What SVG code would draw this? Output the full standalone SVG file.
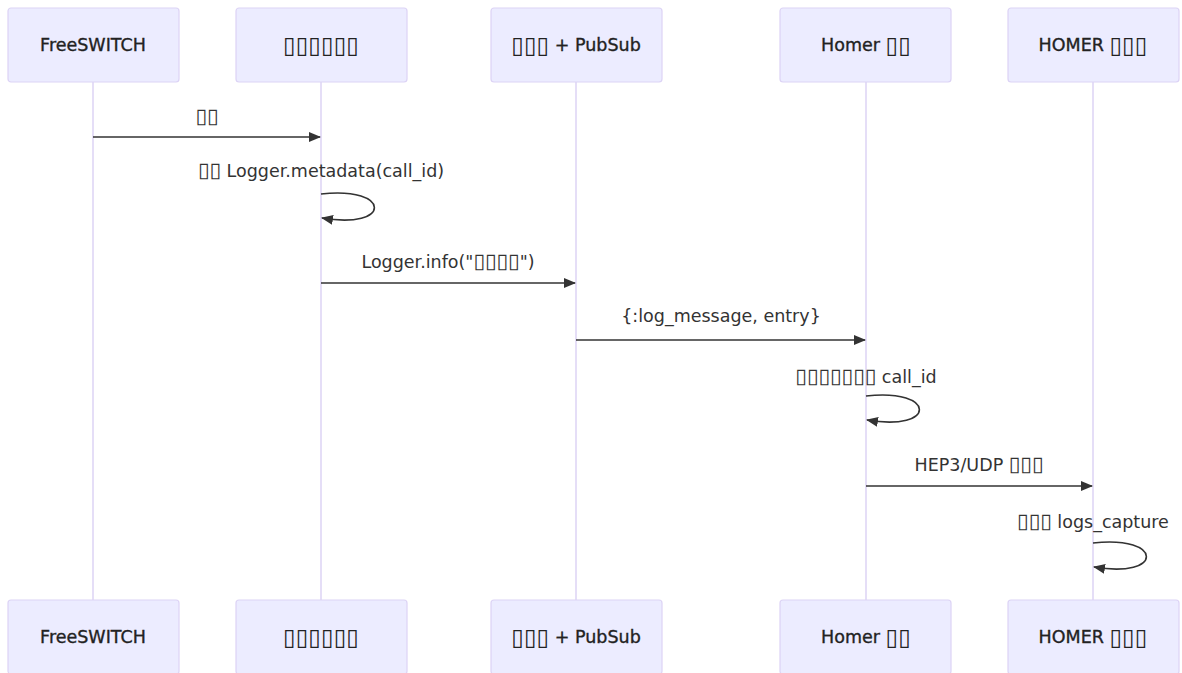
<svg xmlns="http://www.w3.org/2000/svg" width="1182" height="673" viewBox="0 0 1182 673">
<style>
.actor{fill:#ECECFF;stroke:#DCD3F5;stroke-width:1.2}
.atext{font-family:"DejaVu Sans",sans-serif;font-size:17.5px;fill:#222;stroke:#222;stroke-width:0.35;text-anchor:middle;dominant-baseline:central}
.life{stroke:#DCD3F5;stroke-width:1.5}
.msg{stroke:#333;stroke-width:1.6;fill:none}
.mtext{font-family:"DejaVu Sans",sans-serif;font-size:17.5px;fill:#333;text-anchor:middle}
.t{font-size:21px;stroke-width:0}
.ta{font-size:23px;stroke-width:0}
</style>
<defs>
<marker id="arr" viewBox="0 0 12 10" refX="11" refY="5" markerWidth="12" markerHeight="10" markerUnits="userSpaceOnUse" orient="auto">
<path d="M0,0 L12,5 L0,10 z" fill="#333"/>
</marker>
</defs>
<rect width="1182" height="673" fill="#fff"/>
<g id="lifelines">
<line class="life" x1="93" y1="82" x2="93" y2="600"/>
<line class="life" x1="321" y1="82" x2="321" y2="600"/>
<line class="life" x1="576" y1="82" x2="576" y2="600"/>
<line class="life" x1="866" y1="82" x2="866" y2="600"/>
<line class="life" x1="1093" y1="82" x2="1093" y2="600"/>
</g>
<g id="actor-freeswitch">
<rect class="actor" x="8" y="8" width="171" height="74" rx="3"/>
<text class="atext" x="93" y="45">FreeSWITCH</text>
<rect class="actor" x="8" y="600" width="171" height="74" rx="3"/>
<text class="atext" x="93" y="637">FreeSWITCH</text>
</g>
<g id="actor-app">
<rect class="actor" x="236" y="8" width="171" height="74" rx="3"/>
<text class="atext" x="321" y="45"><tspan class="ta">▯▯▯▯▯▯</tspan></text>
<rect class="actor" x="236" y="600" width="171" height="74" rx="3"/>
<text class="atext" x="321" y="637"><tspan class="ta">▯▯▯▯▯▯</tspan></text>
</g>
<g id="actor-pubsub">
<rect class="actor" x="491" y="8" width="171" height="74" rx="3"/>
<text class="atext" x="576" y="45"><tspan class="ta">▯▯▯</tspan> + PubSub</text>
<rect class="actor" x="491" y="600" width="171" height="74" rx="3"/>
<text class="atext" x="576" y="637"><tspan class="ta">▯▯▯</tspan> + PubSub</text>
</g>
<g id="actor-homer">
<rect class="actor" x="780" y="8" width="171" height="74" rx="3"/>
<text class="atext" x="866" y="45">Homer <tspan class="ta">▯▯</tspan></text>
<rect class="actor" x="780" y="600" width="171" height="74" rx="3"/>
<text class="atext" x="866" y="637">Homer <tspan class="ta">▯▯</tspan></text>
</g>
<g id="actor-homer-server">
<rect class="actor" x="1008" y="8" width="171" height="74" rx="3"/>
<text class="atext" x="1093" y="45">HOMER <tspan class="ta">▯▯▯</tspan></text>
<rect class="actor" x="1008" y="600" width="171" height="74" rx="3"/>
<text class="atext" x="1093" y="637">HOMER <tspan class="ta">▯▯▯</tspan></text>
</g>
<g id="connectors">
<line class="msg" x1="93" y1="137" x2="320" y2="137" marker-end="url(#arr)"/>
<path class="msg" d="M321,194 C392,186 392,230 322,218" marker-end="url(#arr)"/>
<line class="msg" x1="321" y1="283" x2="575" y2="283" marker-end="url(#arr)"/>
<line class="msg" x1="576" y1="340" x2="865" y2="340" marker-end="url(#arr)"/>
<path class="msg" d="M866,396 C937,388 937,432 867,420" marker-end="url(#arr)"/>
<line class="msg" x1="866" y1="486" x2="1092" y2="486" marker-end="url(#arr)"/>
<path class="msg" d="M1093,543 C1164,535 1164,579 1094,567" marker-end="url(#arr)"/>
</g>
<g id="labels">
<text class="mtext" x="207" y="123"><tspan class="t">▯▯</tspan></text>
<text class="mtext" x="321" y="177"><tspan class="t">▯▯</tspan> Logger.metadata(call_id)</text>
<text class="mtext" x="448" y="268">Logger.info("<tspan class="t">▯▯▯▯</tspan>")</text>
<text class="mtext" x="721" y="322">{:log_message, entry}</text>
<text class="mtext" x="866" y="383"><tspan class="t">▯▯▯▯▯▯▯</tspan> call_id</text>
<text class="mtext" x="979" y="471">HEP3/UDP <tspan class="t">▯▯▯</tspan></text>
<text class="mtext" x="1093" y="528"><tspan class="t">▯▯▯</tspan> logs_capture</text>
</g>
</svg>
